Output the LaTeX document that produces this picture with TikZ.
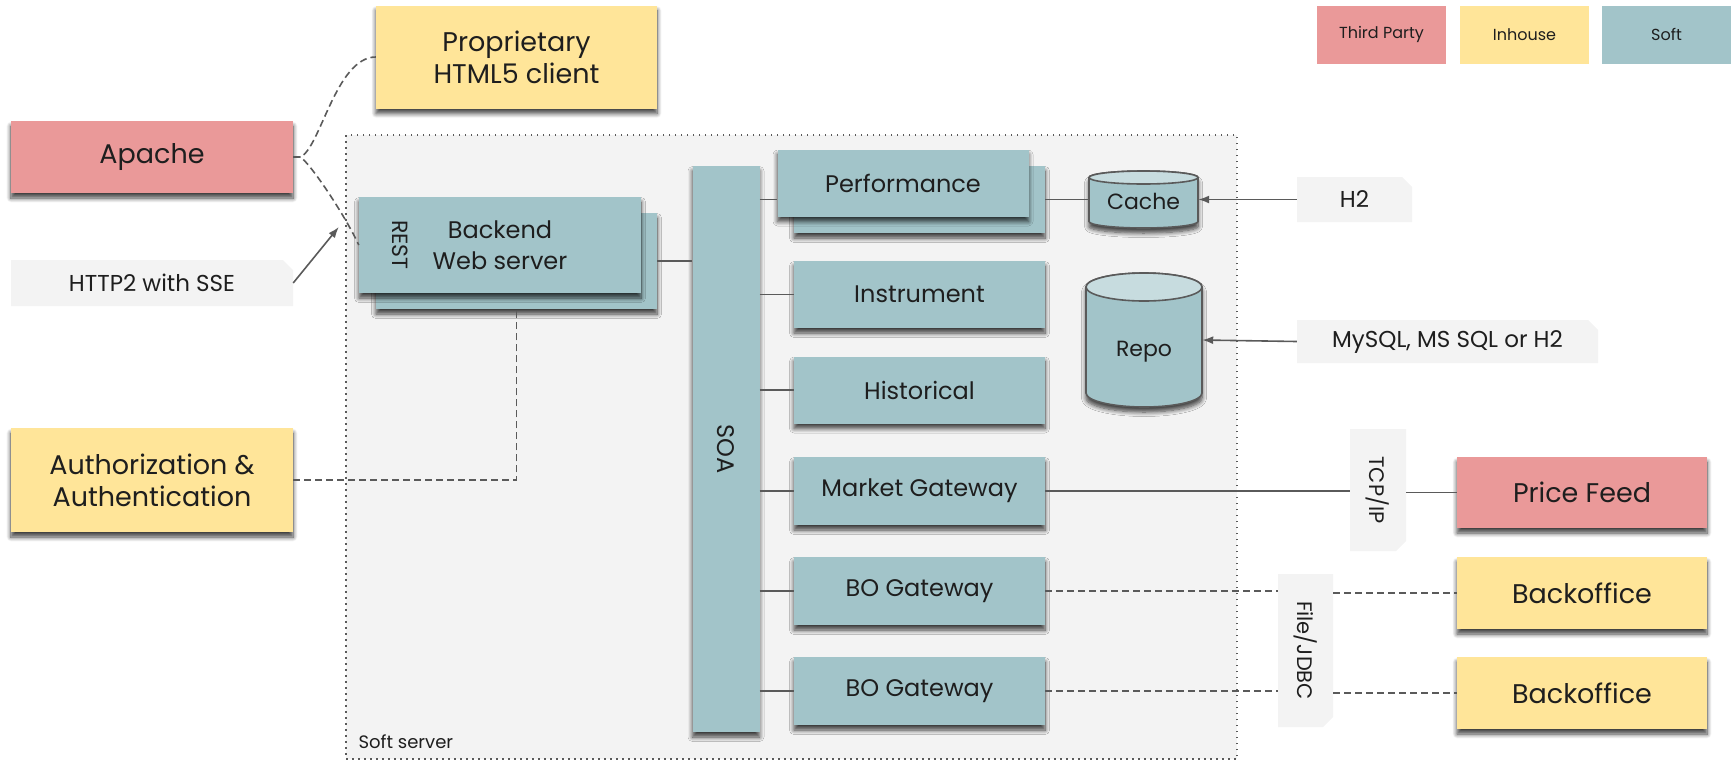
\documentclass[tikz,border=0pt]{standalone}
\usepackage{fontspec}
\setmainfont{Poppins}
\usetikzlibrary{calc,shapes.misc,shadows.blur,arrows.meta}

\definecolor{tpred}{HTML}{EA9999}
\definecolor{inyellow}{HTML}{FFE599}
\definecolor{softteal}{HTML}{A2C4C9}
\definecolor{softlight}{HTML}{C7DCDF}
\definecolor{panelgray}{HTML}{F3F3F3}
\definecolor{linegray}{HTML}{5A5A5A}
\definecolor{inktext}{HTML}{1E1E1E}

% vertical database cylinder: centre x, top y, bottom y, half width, end radius
\newcommand\dbcylinder[5]{%
  \path[cylbody] ({#1-#4},{#2+#5}) -- ({#1-#4},{#3-#5})
    arc[start angle=180, end angle=0, x radius=#4, y radius=#5]
    -- ({#1+#4},{#2+#5})
    arc[start angle=0, end angle=-180, x radius=#4, y radius=#5] -- cycle;
  \path[cyltop] (#1,{#2+#5}) ellipse[x radius=#4, y radius=#5];
}

\begin{document}
\begin{tikzpicture}[x=1pt,y=-1pt,
  lift/.style={blur shadow={shadow xshift=0pt, shadow yshift=-5pt,
      shadow blur radius=4.5pt, shadow blur steps=8, shadow opacity=75}},
  box/.style={rectangle, inner sep=0pt, align=center, text=inktext,
      font=\fontsize{24}{31}\selectfont, lift},
  outer/.style={box, font=\fontsize{27}{32}\selectfont},
  third/.style={outer, fill=tpred},
  inhouse/.style={outer, fill=inyellow},
  soft/.style={box, fill=softteal},
  legendbox/.style={rectangle, inner sep=0pt, minimum height=58pt,
      font=\fontsize{16}{20}\selectfont, text=inktext},
  note/.style={chamfered rectangle, chamfered rectangle corners=north east,
      chamfered rectangle xsep=5pt, chamfered rectangle ysep=5pt,
      fill=panelgray, inner sep=0pt, text=inktext,
      font=\fontsize{23}{28}\selectfont},
  vnote/.style={note, chamfered rectangle corners=south east,
      font=\fontsize{21}{26}\selectfont},
  server/.style={rectangle, fill=panelgray, draw=linegray, line width=1.5pt,
      dash pattern=on 1.5pt off 4.5pt},
  cylbody/.style={fill=softteal, draw=linegray, line width=1.6pt, lift},
  cyltop/.style={fill=softlight, draw=linegray, line width=1.6pt},
  dbtext/.style={rectangle, inner sep=0pt, text=inktext,
      font=\fontsize{22}{26}\selectfont},
  wire/.style={draw=linegray, line width=1.6pt},
  dashwire/.style={wire, dash pattern=on 7pt off 4pt},
  feed/.style={wire, -{Latex[length=11pt,width=8pt]}}
]
\useasboundingbox (0,0) rectangle (1732,761);

% server area
\node[server, minimum width=891pt, minimum height=624pt] (srv) at (791.5,447) {};
\node[anchor=west, text=inktext, font=\fontsize{18}{22}\selectfont] (srvlabel) at (355,742) {Soft server};

% legend
\node[legendbox, fill=tpred, minimum width=129pt] (lgthird) at (1381.5,34.5) {Third Party};
\node[legendbox, fill=inyellow, minimum width=129pt] (lginhouse) at (1524.5,34.5) {Inhouse};
\node[legendbox, fill=softteal, minimum width=129pt] (lgsoft) at (1666.5,34.5) {Soft};

% outside clients
\node[inhouse, minimum width=281pt, minimum height=103pt] (html) at (516.5,57) {Proprietary\\HTML5 client};
\node[third, minimum width=282pt, minimum height=72pt] (apache) at (152,157) {Apache};
\node[note, minimum width=282pt, minimum height=46pt] (http) at (152,283) {HTTP2 with SSE};
\node[inhouse, minimum width=282pt, minimum height=104pt] (auth) at (152,480) {Authorization \&\\Authentication};

% backend web server
\node[soft, minimum width=281pt, minimum height=96pt] (webback) at (516.5,261) {};
\node[soft, minimum width=282pt, minimum height=96pt] (web) at (500,245) {Backend\\Web server};
\node[rotate=-90, text=inktext, font=\fontsize{22}{26}\selectfont] (rest) at (400,245) {REST};
\coordinate (restin) at ($(web.west)+(-20,-18)$);

% service bus
\node[soft, minimum width=67pt, minimum height=566pt] (soa) at (726,449) {\rotatebox{-90}{SOA}};

% services
\node[soft, minimum width=251pt, minimum height=67pt] (perfback) at (919.5,199.5) {};
\node[soft, minimum width=251pt, minimum height=67pt] (perf) at (903,183) {Performance};
\node[soft, minimum width=251pt, minimum height=67pt] (instr) at (919.5,294.5) {Instrument};
\node[soft, minimum width=251pt, minimum height=67pt] (hist) at (919.5,390) {Historical};
\node[soft, minimum width=251pt, minimum height=68pt] (mkt) at (919.5,491) {Market Gateway};
\node[soft, minimum width=251pt, minimum height=68pt] (bo1) at (919.5,591) {BO Gateway};
\node[soft, minimum width=251pt, minimum height=68pt] (bo2) at (919.5,691) {BO Gateway};

% storage
\dbcylinder{1143.5}{171}{228}{54.5}{6.5}
\dbcylinder{1144}{273}{407}{58}{14}
\node[dbtext, minimum width=109pt, minimum height=57pt] (cache) at (1143.5,199.5) {\raisebox{-10pt}[0pt][0pt]{Cache}};
\node[dbtext, minimum width=116pt, minimum height=134pt] (repo) at (1144,340) {\raisebox{-16pt}[0pt][0pt]{Repo}};

% protocol notes
\node[note, minimum width=115pt, minimum height=45pt] (h2) at (1354.5,199.5) {H2};
\node[note, minimum width=301pt, minimum height=43pt] (sql) at (1447.5,341.5) {MySQL, MS SQL or H2};
\node[vnote, minimum width=56pt, minimum height=122pt] (tcp) at (1378,490) {\rotatebox{-90}{TCP/IP}};
\node[vnote, minimum width=55pt, minimum height=153pt] (fj) at (1305.5,650.5) {\rotatebox{-90}{File/JDBC}};

% external systems
\node[third, minimum width=250pt, minimum height=71pt] (pfeed) at (1582,492.5) {Price Feed};
\node[inhouse, minimum width=250pt, minimum height=72pt] (back1) at (1582,593) {Backoffice};
\node[inhouse, minimum width=250pt, minimum height=72pt] (back2) at (1582,693) {Backoffice};

% connectors
\draw[dashwire] (apache.east) -- ++(7,0) .. controls +(20,-8) and +(-40,0) .. (html.west);
\draw[dashwire] (apache.east) -- ++(7,0) .. controls +(10,6) and +(-14,-30) .. (web.west);
\draw[feed] (http.east) -- (restin);
\draw[dashwire] (auth.east) -| (webback.south);
\draw[wire] (webback.east) -- (webback.east -| soa.west);

\draw[wire] (soa.east |- perfback.west) -- (perf.west |- perfback.west);
\foreach \svc in {instr,hist,mkt,bo1,bo2}
  \draw[wire] (soa.east |- \svc.west) -- (\svc.west);

\draw[wire] (perfback.east) -- (cache.west);
\draw[feed] (h2.west) -- (cache.east);
\draw[feed] (sql.west) -- (repo.east);

\draw[wire] (mkt.east) -- (tcp.west |- mkt.east);
\draw[wire] (tcp.east |- pfeed.west) -- (pfeed.west);
\draw[dashwire] (bo1.east) -- (fj.west |- bo1.east);
\draw[dashwire] (fj.east |- back1.west) -- (back1.west);
\draw[dashwire] (bo2.east) -- (fj.west |- bo2.east);
\draw[dashwire] (fj.east |- back2.west) -- (back2.west);
\end{tikzpicture}
\end{document}
